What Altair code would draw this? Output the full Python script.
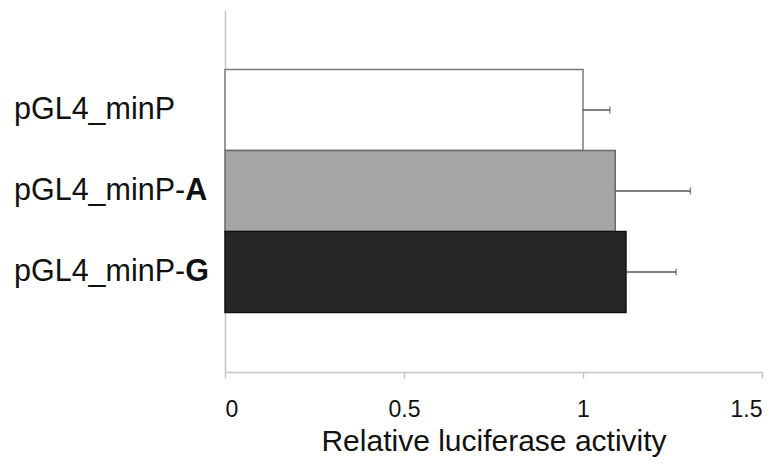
import altair as alt
import pandas as pd

categories = ["pGL4_minP", "pGL4_minP-A", "pGL4_minP-G"]
label_prefix = ["pGL4_minP", "pGL4_minP-", "pGL4_minP-"]
label_suffix = ["", "A", "G"]
values = [1.0, 1.09, 1.12]
errors = [0.075, 0.21, 0.14]
fills = ["#ffffff", "#a6a6a6", "#262626"]
strokes = ["#7a7a7a", "#6a6a6a", "#101010"]
x_ticks = [0, 0.5, 1, 1.5]

df = pd.DataFrame({
    "cat": categories,
    "prefix": label_prefix,
    "suffix": label_suffix,
    "value": values,
    "err": errors,
})
df["hi"] = df["value"] + df["err"]

FONT = "Liberation Sans"
LBL = 30.5

y_enc = alt.Y("cat:N", sort=categories,
              scale=alt.Scale(paddingInner=0, paddingOuter=0.735),
              axis=alt.Axis(labels=False, ticks=False, title=None,
                            domainColor="#c4c4c4", domainWidth=1.5))
x_scale = alt.Scale(domain=[0, 1.5], nice=False)

base = alt.Chart(df)

bars = base.mark_bar(strokeWidth=1.5).encode(
    x=alt.X("value:Q", scale=x_scale,
            axis=alt.Axis(values=x_ticks, format=".1~f", grid=False,
                          title="Relative luciferase activity",
                          domainColor="#c4c4c4", domainWidth=1.5,
                          tickColor="#c4c4c4", tickSize=6, tickWidth=1.5,
                          labelFontSize=23, labelColor="#111", labelPadding=20,
                          titleFontSize=30, titleFontWeight="normal",
                          titleColor="#111", titlePadding=5)),
    y=y_enc,
    fill=alt.Fill("cat:N", scale=alt.Scale(domain=categories, range=fills), legend=None),
    stroke=alt.Stroke("cat:N", scale=alt.Scale(domain=categories, range=strokes), legend=None),
)

err_rule = base.mark_rule(color="#555555", strokeWidth=1.5).encode(
    x=alt.X("value:Q", scale=x_scale),
    x2="hi:Q",
    y=alt.Y("cat:N", sort=categories),
)

err_cap = base.mark_tick(color="#555555", thickness=1.5, size=7, orient="vertical").encode(
    x=alt.X("hi:Q", scale=x_scale),
    y=alt.Y("cat:N", sort=categories),
)

prefix_txt = base.mark_text(align="left", baseline="middle", fontSize=LBL,
                            font=FONT, color="#111").encode(
    x=alt.value(-211),
    y=alt.Y("cat:N", sort=categories),
    text="prefix:N",
)

suffix_txt = base.mark_text(align="left", baseline="middle", fontSize=LBL,
                            font=FONT, fontWeight="bold", color="#111").encode(
    x=alt.value(-211 + 5.613 * LBL),
    y=alt.Y("cat:N", sort=categories),
    text="suffix:N",
)

chart = alt.layer(bars, err_rule, err_cap, prefix_txt, suffix_txt).properties(
    width=537, height=362,
    autosize=alt.AutoSizeParams(type="none"),
    padding={"left": 217, "top": 2, "right": 13, "bottom": 92},
).configure(font=FONT).configure_view(stroke=None)

chart.save("out.html", embed_options={"renderer": "svg", "actions": False})
